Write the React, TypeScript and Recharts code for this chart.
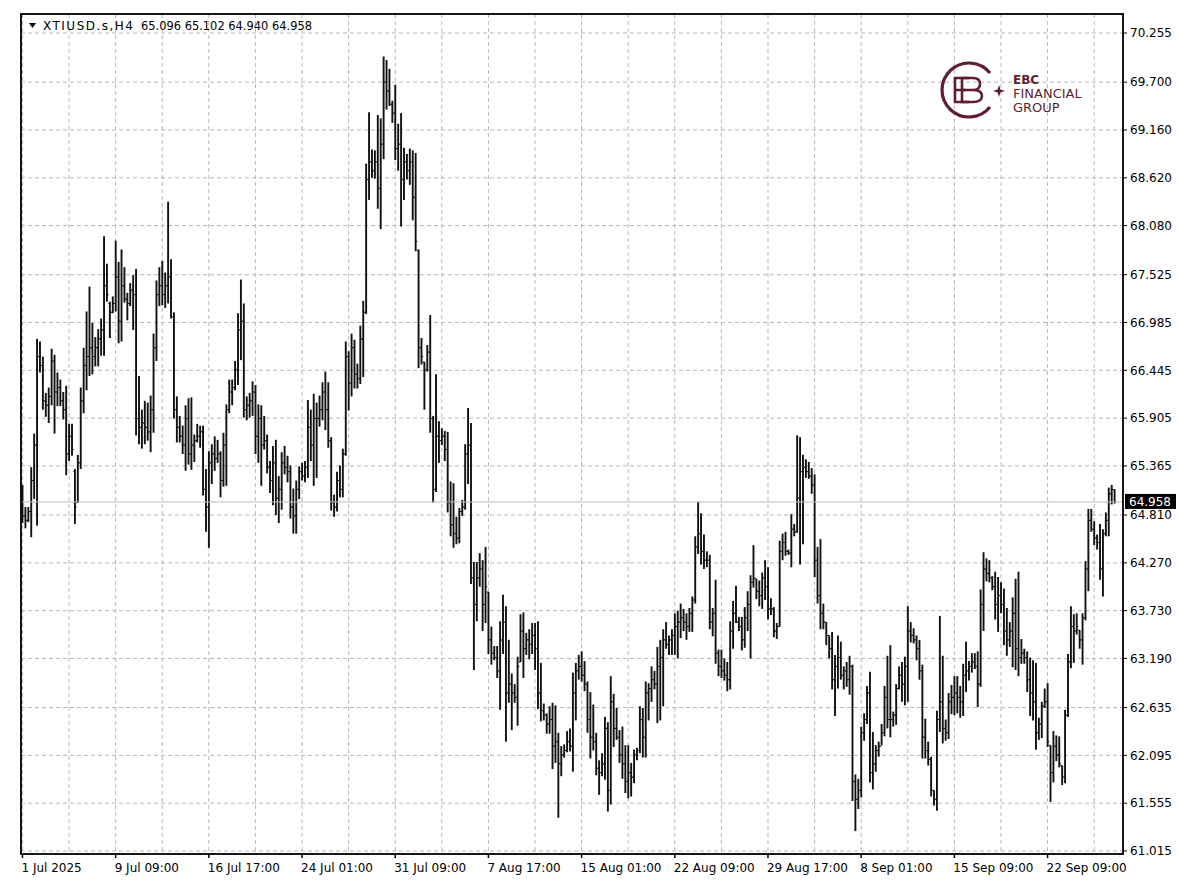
// XTIUSD H4 bar chart (MT4 style) - OHLC bars drawn with a custom Bar shape

import React from 'react';
import { ComposedChart, Bar, XAxis, YAxis, CartesianGrid, ReferenceLine } from 'recharts';

type Ohlc = [number, number, number, number]; // open, high, low, close

const jul01: Ohlc[] = [
  [65.05, 65.15, 64.72, 64.80], [64.80, 64.90, 64.66, 64.75], [64.75, 64.90, 64.73, 64.85], [64.85, 65.35, 64.56, 65.20],
  [65.20, 65.73, 64.99, 65.60], [65.60, 66.80, 64.69, 66.60], [66.60, 66.77, 66.42, 66.50], [66.50, 66.60, 66.00, 66.10],
  [66.10, 66.19, 65.92, 66.05], [66.05, 66.25, 65.85, 66.15], [66.15, 66.69, 66.05, 66.55], [66.55, 66.62, 65.73, 66.20],
  [66.20, 66.42, 66.04, 66.25], [66.25, 66.34, 66.04, 66.10], [66.10, 66.20, 65.89, 66.00], [66.00, 66.27, 65.26, 65.50],
  [65.50, 65.84, 65.42, 65.70], [65.70, 65.84, 65.48, 65.55], [65.30, 65.33, 64.71, 64.90], [64.95, 65.49, 64.95, 65.40],
  [65.40, 66.25, 65.33, 66.10], [66.10, 66.70, 65.96, 66.50], [66.50, 67.11, 66.22, 66.60], [66.60, 67.39, 66.38, 66.70],
  [66.70, 66.98, 66.40, 66.60], [66.60, 66.82, 66.49, 66.70], [66.70, 66.91, 66.49, 66.80], [66.80, 67.03, 66.61, 66.90],
  [66.90, 67.96, 66.61, 67.40], [67.40, 67.65, 67.22, 67.30], [67.20, 67.22, 66.81, 67.10], [67.10, 67.28, 67.09, 67.20],
];
const jul09: Ohlc[] = [
  [67.20, 67.91, 67.11, 67.50], [67.50, 67.67, 66.75, 67.00], [67.00, 67.81, 66.77, 67.40], [67.40, 67.61, 67.21, 67.25],
  [67.25, 67.32, 67.01, 67.20], [67.20, 67.43, 67.17, 67.35], [67.35, 67.52, 66.90, 67.30], [67.30, 67.59, 65.71, 65.90],
  [65.90, 66.38, 65.61, 65.80], [65.80, 66.00, 65.56, 65.85], [65.85, 66.10, 65.61, 65.80], [65.80, 66.08, 65.65, 65.75],
  [65.75, 66.16, 65.52, 66.00], [66.00, 66.86, 65.74, 66.70], [66.70, 67.46, 66.55, 67.30], [67.30, 67.61, 67.17, 67.40],
  [67.40, 67.68, 67.18, 67.30], [67.30, 67.55, 67.15, 67.40], [67.40, 68.35, 67.20, 67.50], [67.50, 67.70, 67.03, 67.05],
  [67.05, 67.10, 65.90, 66.00], [66.00, 66.15, 65.63, 65.80], [65.80, 65.93, 65.63, 65.70], [65.70, 65.82, 65.50, 65.60],
  [65.60, 66.05, 65.31, 65.90], [65.90, 66.13, 65.38, 65.50], [65.50, 66.14, 65.32, 65.60], [65.60, 65.72, 65.41, 65.65],
  [65.65, 65.84, 65.63, 65.70], [65.70, 65.82, 65.57, 65.75], [65.75, 65.82, 65.03, 65.10], [65.10, 65.33, 64.62, 64.90],
];
const jul16: Ohlc[] = [
  [64.90, 65.53, 64.44, 65.40], [65.40, 65.61, 65.16, 65.50], [65.50, 65.70, 65.31, 65.45], [65.45, 65.66, 65.40, 65.50],
  [65.50, 65.53, 65.01, 65.20], [65.20, 65.74, 65.13, 65.60], [65.60, 66.06, 65.14, 66.00], [66.00, 66.34, 65.96, 66.20],
  [66.20, 66.34, 66.05, 66.25], [66.25, 66.55, 66.22, 66.45], [66.45, 67.09, 66.28, 66.90], [66.90, 67.47, 66.56, 67.00],
  [67.00, 67.20, 65.91, 66.00], [66.00, 66.15, 65.88, 66.05], [66.05, 66.19, 65.91, 66.10], [66.10, 66.32, 65.93, 66.20],
  [66.20, 66.28, 65.50, 65.70], [65.70, 66.06, 65.40, 65.90], [65.90, 66.05, 65.14, 65.60], [65.60, 65.93, 65.55, 65.65],
  [65.65, 65.72, 65.28, 65.35], [65.35, 65.42, 65.06, 65.20], [65.20, 65.59, 64.92, 65.40], [65.40, 65.66, 64.81, 65.00],
  [65.00, 65.25, 64.72, 65.10], [65.10, 65.52, 64.87, 65.40], [65.40, 65.59, 65.27, 65.35], [65.35, 65.48, 65.18, 65.30],
  [65.30, 65.37, 64.77, 64.90], [64.90, 65.11, 64.60, 64.80], [64.80, 65.20, 64.60, 65.10], [65.10, 65.36, 64.99, 65.30],
];
const jul24: Ohlc[] = [
  [65.30, 65.40, 65.20, 65.25], [65.25, 65.42, 65.18, 65.35], [65.35, 66.11, 65.23, 65.80], [65.80, 66.00, 65.42, 65.60],
  [65.60, 66.18, 65.14, 65.90], [65.90, 66.08, 65.23, 65.90], [65.90, 66.16, 65.81, 66.00], [66.00, 66.31, 65.88, 66.20],
  [66.20, 66.43, 65.77, 66.00], [66.00, 66.31, 65.57, 65.65], [65.65, 65.69, 64.86, 64.95], [64.95, 65.04, 64.79, 64.90],
  [64.90, 65.30, 64.85, 65.20], [65.20, 65.37, 65.01, 65.10], [65.10, 65.56, 65.01, 65.50], [65.50, 66.77, 65.48, 66.60],
  [66.60, 66.66, 65.99, 66.30], [66.30, 66.86, 66.15, 66.70], [66.70, 66.79, 66.24, 66.40], [66.40, 66.52, 66.24, 66.35],
  [66.35, 66.95, 66.29, 66.80], [66.80, 67.23, 66.37, 67.10], [67.10, 68.78, 67.08, 68.60], [68.60, 69.36, 68.37, 68.80],
  [68.80, 68.94, 68.62, 68.70], [68.70, 68.93, 68.61, 68.80], [68.80, 69.33, 68.27, 68.50], [68.50, 69.29, 68.04, 69.00],
  [69.00, 69.99, 68.83, 69.70], [69.70, 69.95, 69.39, 69.60], [69.60, 69.85, 69.43, 69.45], [69.45, 69.49, 69.24, 69.35],
];
const jul31: Ohlc[] = [
  [69.35, 69.67, 68.82, 68.95], [68.95, 69.23, 68.70, 69.00], [69.00, 69.35, 68.07, 68.60], [68.60, 68.96, 68.37, 68.80],
  [68.80, 68.89, 68.60, 68.70], [68.70, 68.95, 68.54, 68.80], [68.80, 68.93, 68.14, 68.40], [68.40, 68.90, 67.79, 67.90],
  [67.80, 67.81, 66.47, 66.70], [66.70, 66.81, 66.51, 66.60], [66.54, 66.54, 66.00, 66.45], [66.45, 66.73, 66.43, 66.65],
  [66.65, 67.07, 65.74, 65.90], [65.90, 65.93, 64.95, 65.10], [65.10, 66.40, 65.07, 65.70], [65.70, 65.87, 65.40, 65.65],
  [65.65, 65.79, 65.60, 65.70], [65.70, 65.76, 65.42, 65.55], [65.55, 65.75, 64.84, 64.95], [64.95, 65.19, 64.57, 64.70],
  [64.70, 65.17, 64.44, 64.60], [64.60, 64.79, 64.48, 64.55], [64.55, 64.89, 64.49, 64.85], [64.85, 64.98, 64.80, 64.90],
  [64.90, 65.61, 64.87, 65.50], [65.50, 66.02, 65.16, 65.60], [65.60, 65.85, 64.03, 64.10], [64.10, 64.28, 63.06, 63.80],
  [63.80, 64.28, 63.61, 64.10], [64.10, 64.38, 64.00, 64.20], [64.20, 64.30, 63.50, 63.80], [63.80, 64.45, 63.59, 64.00],
];
const aug07: Ohlc[] = [
  [63.94, 63.94, 63.24, 63.40], [63.40, 63.55, 63.12, 63.25], [63.25, 63.33, 63.17, 63.20], [63.20, 63.33, 62.97, 63.05],
  [63.05, 63.61, 62.61, 63.40], [63.40, 63.91, 63.24, 63.60], [63.60, 63.78, 62.25, 62.80], [62.80, 63.40, 62.69, 62.90],
  [62.90, 63.02, 62.38, 62.80], [62.80, 62.90, 62.69, 62.75], [62.75, 63.21, 62.43, 63.10], [63.15, 63.69, 63.15, 63.50],
  [63.50, 63.71, 62.97, 63.30], [63.30, 63.48, 63.23, 63.40], [63.40, 63.52, 63.18, 63.35], [63.35, 63.59, 63.24, 63.45],
  [63.45, 63.59, 63.06, 63.30], [63.30, 63.61, 62.62, 62.80], [62.80, 63.14, 62.48, 62.60], [62.60, 62.68, 62.49, 62.55],
  [62.55, 62.57, 62.34, 62.45], [62.45, 62.65, 62.34, 62.50], [62.50, 62.69, 61.94, 62.20], [62.20, 62.66, 62.01, 62.25],
  [62.25, 62.35, 61.39, 62.00], [62.00, 62.20, 61.86, 62.10], [62.10, 62.22, 62.07, 62.15], [62.15, 62.37, 62.13, 62.25],
  [62.25, 62.40, 62.14, 62.20], [62.20, 63.03, 61.91, 62.80], [62.80, 63.14, 62.49, 63.05], [63.05, 63.23, 62.95, 63.10],
];
const aug15: Ohlc[] = [
  [63.10, 63.27, 62.93, 63.00], [63.00, 63.16, 62.82, 62.90], [62.90, 62.93, 62.35, 62.50], [62.50, 62.81, 62.06, 62.30],
  [62.30, 62.67, 62.15, 62.25], [62.25, 62.35, 61.87, 61.95], [61.95, 62.04, 61.65, 61.90], [61.90, 62.12, 61.86, 62.00],
  [62.00, 62.53, 61.82, 62.40], [62.40, 62.47, 61.46, 61.70], [61.70, 62.99, 61.54, 62.70], [62.70, 62.79, 62.19, 62.40],
  [62.40, 62.63, 62.27, 62.30], [62.30, 62.38, 62.01, 62.10], [62.10, 62.42, 61.83, 62.00], [62.00, 62.21, 61.67, 61.80],
  [61.80, 62.21, 61.61, 61.90], [61.90, 62.01, 61.63, 61.85], [61.85, 62.16, 61.78, 62.10], [62.10, 62.18, 62.04, 62.15],
  [62.15, 62.65, 62.12, 62.50], [62.50, 62.63, 62.07, 62.30], [62.30, 62.93, 62.07, 62.80], [62.80, 62.91, 62.49, 62.85],
  [62.85, 63.10, 62.70, 62.95], [62.95, 63.05, 62.84, 62.90], [62.90, 63.32, 62.46, 63.10], [63.10, 63.40, 62.49, 63.20],
  [63.20, 63.52, 62.65, 63.40], [63.40, 63.60, 63.30, 63.35], [63.35, 63.45, 63.23, 63.40], [63.40, 63.52, 63.23, 63.45],
];
const aug22: Ohlc[] = [
  [63.45, 63.70, 63.23, 63.55], [63.55, 63.73, 63.19, 63.60], [63.60, 63.81, 63.42, 63.65], [63.65, 63.75, 63.50, 63.60],
  [63.60, 63.70, 63.40, 63.55], [63.55, 63.76, 63.49, 63.70], [63.70, 63.89, 63.49, 63.85], [63.85, 64.57, 63.81, 64.45],
  [64.45, 64.96, 64.37, 64.60], [64.60, 64.83, 64.25, 64.40], [64.40, 64.59, 64.20, 64.30], [64.30, 64.40, 64.22, 64.30],
  [64.30, 64.36, 63.52, 63.60], [63.60, 63.76, 63.44, 63.70], [63.70, 64.08, 63.13, 63.25], [63.25, 63.29, 62.99, 63.10],
  [63.10, 63.29, 62.97, 63.05], [63.05, 63.19, 62.94, 63.00], [63.00, 63.15, 62.82, 62.95], [62.95, 63.61, 62.84, 63.50],
  [63.50, 63.84, 63.30, 63.70], [63.70, 64.01, 63.59, 63.60], [63.60, 63.66, 63.50, 63.55], [63.55, 63.66, 63.28, 63.40],
  [63.40, 63.77, 63.31, 63.65], [63.65, 63.95, 63.50, 63.80], [63.80, 64.13, 63.19, 64.05], [64.05, 64.47, 63.99, 64.10],
  [64.09, 64.09, 63.86, 63.95], [63.95, 64.07, 63.78, 63.90], [63.90, 64.16, 63.75, 64.10], [64.10, 64.30, 63.85, 64.00],
];
const aug29: Ohlc[] = [
  [64.00, 64.22, 63.63, 63.75], [63.75, 63.87, 63.68, 63.75], [63.75, 63.77, 63.43, 63.50], [63.50, 63.59, 63.41, 63.55],
  [63.55, 64.52, 63.55, 64.40], [64.40, 64.60, 64.30, 64.50], [64.50, 64.62, 64.35, 64.40], [64.40, 64.42, 64.36, 64.38],
  [64.38, 64.82, 64.22, 64.65], [64.65, 64.71, 64.57, 64.62], [64.62, 65.71, 64.61, 65.00], [65.00, 65.69, 64.25, 65.30],
  [65.30, 65.49, 64.48, 65.35], [65.35, 65.44, 65.23, 65.30], [65.30, 65.41, 65.22, 65.25], [65.25, 65.34, 65.05, 65.15],
  [65.15, 65.27, 64.11, 64.30], [64.30, 64.45, 63.81, 63.90], [63.90, 64.54, 63.52, 63.70], [63.70, 63.81, 63.52, 63.60],
  [63.60, 63.60, 63.34, 63.45], [63.45, 63.45, 63.19, 63.30], [63.30, 63.49, 62.84, 62.95], [62.95, 63.23, 62.54, 63.10],
  [63.10, 63.45, 62.85, 63.20], [63.20, 63.38, 62.95, 63.00], [63.00, 63.10, 62.84, 63.05], [63.05, 63.15, 62.87, 62.95],
  [62.95, 63.22, 62.78, 63.10], [63.10, 63.12, 61.58, 61.80], [61.80, 61.88, 61.24, 61.60], [61.60, 61.83, 61.49, 61.70],
];
const sep08: Ohlc[] = [
  [61.70, 62.42, 61.62, 62.35], [62.35, 62.57, 62.26, 62.50], [62.50, 62.88, 62.45, 62.80], [62.80, 63.04, 61.79, 61.90],
  [61.90, 62.36, 61.71, 62.00], [62.00, 62.21, 61.91, 62.15], [62.15, 62.25, 62.08, 62.20], [62.20, 62.45, 62.21, 62.35],
  [62.35, 62.88, 62.31, 62.75], [62.75, 63.22, 62.40, 62.50], [62.50, 63.34, 62.30, 62.50], [62.50, 62.59, 62.42, 62.55],
  [62.55, 62.90, 62.44, 62.85], [62.85, 63.10, 62.84, 63.00], [63.00, 63.15, 62.70, 62.90], [62.90, 63.21, 62.66, 63.10],
  [63.10, 63.78, 62.70, 63.50], [63.50, 63.60, 63.37, 63.45], [63.45, 63.53, 63.36, 63.40], [63.40, 63.45, 63.17, 63.30],
  [63.30, 63.40, 62.95, 63.05], [63.05, 63.12, 62.06, 62.30], [62.30, 62.51, 62.06, 62.15], [62.15, 62.25, 61.98, 62.05],
  [62.05, 62.08, 61.63, 61.70], [61.70, 61.70, 61.53, 61.60], [61.60, 62.60, 61.47, 62.50], [62.50, 63.67, 62.36, 62.70],
  [62.70, 63.22, 62.23, 62.40], [62.40, 62.50, 62.26, 62.35], [62.35, 62.80, 62.28, 62.70], [62.70, 62.89, 62.56, 62.75],
];
const sep15: Ohlc[] = [
  [62.75, 62.99, 62.55, 62.80], [62.80, 62.99, 62.57, 62.75], [62.75, 62.88, 62.52, 62.70], [62.70, 63.13, 62.54, 63.00],
  [63.00, 63.38, 62.81, 63.05], [63.05, 63.16, 62.94, 63.10], [63.10, 63.25, 63.03, 63.15], [63.15, 63.25, 63.07, 63.10],
  [63.10, 63.27, 62.64, 62.90], [62.90, 63.97, 62.87, 63.80], [63.80, 64.39, 63.50, 64.20], [64.20, 64.32, 64.06, 64.15],
  [64.15, 64.30, 64.05, 64.10], [64.10, 64.12, 63.96, 64.00], [64.00, 64.17, 63.63, 63.80], [63.80, 64.11, 63.49, 63.90],
  [63.90, 64.05, 63.70, 63.80], [63.80, 63.98, 63.34, 63.50], [63.50, 63.76, 63.22, 63.40], [63.40, 63.60, 63.32, 63.50],
  [63.50, 63.88, 63.09, 63.70], [63.70, 64.09, 63.06, 63.30], [63.30, 64.17, 62.99, 63.20], [63.20, 63.41, 63.13, 63.25],
  [63.25, 63.30, 63.13, 63.20], [63.20, 63.27, 62.81, 62.95], [62.95, 63.20, 62.54, 62.80], [62.80, 63.17, 62.49, 62.70],
  [62.70, 63.14, 62.16, 62.35], [62.35, 62.52, 62.27, 62.45], [62.45, 62.70, 62.29, 62.65], [62.65, 62.85, 62.63, 62.70],
];
const sep22: Ohlc[] = [
  [62.70, 62.91, 62.19, 62.25], [62.21, 62.21, 61.57, 61.90], [61.90, 62.37, 61.79, 62.20], [62.20, 62.32, 62.03, 62.10],
  [62.10, 62.31, 61.96, 62.00], [61.98, 61.98, 61.76, 61.85], [61.85, 62.61, 61.78, 62.55], [62.55, 63.24, 62.53, 63.15],
  [63.15, 63.78, 63.08, 63.55], [63.55, 63.69, 63.14, 63.50], [63.50, 63.70, 63.46, 63.55], [63.51, 63.51, 63.30, 63.40],
  [63.40, 63.70, 63.12, 63.65], [63.65, 64.29, 63.62, 64.20], [64.20, 64.88, 63.95, 64.75], [64.75, 64.88, 64.62, 64.65],
  [64.65, 64.74, 64.47, 64.55], [64.55, 64.59, 64.42, 64.50], [64.50, 64.71, 64.08, 64.20], [64.20, 64.65, 63.89, 64.60],
  [64.60, 64.84, 64.57, 64.75], [64.75, 65.12, 64.57, 65.05], [65.05, 65.15, 64.93, 65.10], [65.096, 65.102, 64.94, 64.958],
];

// one label every 32 bars, grid line every 16
const xLabels = [
  '1 Jul 2025', '9 Jul 09:00', '16 Jul 17:00', '24 Jul 01:00', '31 Jul 09:00', '7 Aug 17:00',
  '15 Aug 01:00', '22 Aug 09:00', '29 Aug 17:00', '8 Sep 01:00', '15 Sep 09:00', '22 Sep 09:00',
];
const priceTicks = [
  70.255, 69.7, 69.16, 68.62, 68.08, 67.525, 66.985, 66.445, 65.905,
  65.365, 64.81, 64.27, 63.73, 63.19, 62.635, 62.095, 61.555, 61.015,
];
const priceDomain = [60.981, 70.47];
const lastPrice = 64.958;
const symbol = 'XTIUSD.s,H4';
const quote = '65.096 65.102 64.940 64.958';

const bars = [
  ...jul01, ...jul09, ...jul16, ...jul24, ...jul31, ...aug07,
  ...aug15, ...aug22, ...aug29, ...sep08, ...sep15, ...sep22,
].map((r, i) => ({ i, o: r[0], h: r[1], l: r[2], c: r[3], range: [r[2], r[1]] }));

const gridTicks = bars.filter(b => b.i % 16 === 0).map(b => b.i);

const FONT = 'DejaVu Sans';
const MAROON = '#5e1f33';

// vertical high-low line with open tick on the left and close tick on the right
const OhlcBar = (props: any) => {
  const { x, y, width, height, payload } = props;
  if (x == null || !payload) return null;
  const top = Math.min(y, y + height);
  const span = Math.abs(height);
  const cx = x + width / 2;
  const k = payload.h - payload.l > 0 ? span / (payload.h - payload.l) : 0;
  const yo = top + (payload.h - payload.o) * k;
  const yc = top + (payload.h - payload.c) * k;
  return (
    <g stroke="#111">
      <line x1={cx} y1={top} x2={cx} y2={top + Math.max(span, 1)} strokeWidth={1.9} />
      <line x1={cx - 1.7} y1={yo} x2={cx} y2={yo} strokeWidth={1} />
      <line x1={cx} y1={yc} x2={cx + 1.7} y2={yc} strokeWidth={1} />
    </g>
  );
};

const DateTick = ({ x, y, payload }: any) => {
  const v = payload.value;
  if (v % 32 !== 0) return <g />;
  return (
    <g>
      <line x1={x} y1={y} x2={x} y2={y + 4} stroke="#000" strokeWidth={1.5} />
      <text x={x - 1} y={y + 18} fontSize={12} fontFamily={FONT} fill="#000">
        {xLabels[v / 32]}
      </text>
    </g>
  );
};

const PriceTag = ({ viewBox }: any) => {
  if (!viewBox) return null;
  const x = viewBox.x + viewBox.width + 2;
  const y = viewBox.y;
  return (
    <g>
      <rect x={x} y={y - 8} width={51} height={15} fill="#000" />
      <text x={x + 4} y={y + 4} fontSize={12} fontFamily={FONT} fill="#fff">
        {lastPrice.toFixed(3)}
      </text>
    </g>
  );
};

export default function App() {
  return (
    <div style={{ position: 'absolute', left: 0, top: 0, width: 1200, height: 896, background: '#fff' }}>
      <ComposedChart
        width={1200}
        height={896}
        data={bars}
        margin={{ top: 14, right: 0, bottom: 0, left: 21 }}
        barCategoryGap={0}
      >
        <CartesianGrid stroke="#b8b8b8" strokeDasharray="4 3" />
        <XAxis
          dataKey="i"
          ticks={gridTicks}
          interval={0}
          tick={<DateTick />}
          tickLine={false}
          axisLine={false}
          tickSize={0}
          tickMargin={0}
          height={42}
          padding={{ left: 0, right: 7 }}
        />
        <YAxis
          orientation="right"
          type="number"
          domain={priceDomain}
          allowDataOverflow
          ticks={priceTicks}
          interval={0}
          width={77}
          axisLine={false}
          tickSize={4}
          tickMargin={3}
          tickLine={{ stroke: '#000' }}
          tick={{ fontSize: 12, fontFamily: FONT, fill: '#000' }}
          tickFormatter={(v: number) => v.toFixed(3)}
        />
        <ReferenceLine y={lastPrice} stroke="#bdbdbd" label={<PriceTag />} />
        <Bar dataKey="range" shape={OhlcBar} isAnimationActive={false} />
      </ComposedChart>

      <svg width={1200} height={896} style={{ position: 'absolute', left: 0, top: 0, pointerEvents: 'none' }}>
        {/* chart frame */}
        <rect x={21} y={14} width={1102} height={840} fill="none" stroke="#000" strokeWidth={1.8} />

        {/* header */}
        <polygon points="29,23 36,23 32.5,28" fill="#000" />
        <text x={43} y={30} fontSize={12} fontFamily={FONT} fill="#000" textLength={90} lengthAdjust="spacing">
          {symbol}
        </text>
        <text x={141} y={30} fontSize={12} fontFamily={FONT} fill="#000" textLength={171} lengthAdjust="spacingAndGlyphs">
          {quote}
        </text>

        {/* EBC logo */}
        <g stroke={MAROON} fill="none" strokeWidth={3.2}>
          <path d="M 990 73 A 27 27 0 1 0 990 107" />
        </g>
        <g stroke={MAROON} fill="none" strokeWidth={2.6}>
          <path d="M 969 78 H 955 V 102 H 969 M 955 90 H 966" />
          <path d="M 962 78 H 973 Q 980 78 980 84 Q 980 90 973 90 H 962 M 973 90 Q 982 90 982 96 Q 982 102 973 102 H 962 V 78" />
        </g>
        <path
          d="M 999 85 L 1000.4 89.6 L 1005 91 L 1000.4 92.4 L 999 97 L 997.6 92.4 L 993 91 L 997.6 89.6 Z"
          fill={MAROON}
        />
        <text x={1013} y={84} fontSize={12} fontWeight="bold" fontFamily={FONT} fill={MAROON}>EBC</text>
        <text x={1013} y={98} fontSize={13} fontFamily={FONT} fill={MAROON}>FINANCIAL</text>
        <text x={1013} y={112} fontSize={13} fontFamily={FONT} fill={MAROON}>GROUP</text>
      </svg>
    </div>
  );
}
